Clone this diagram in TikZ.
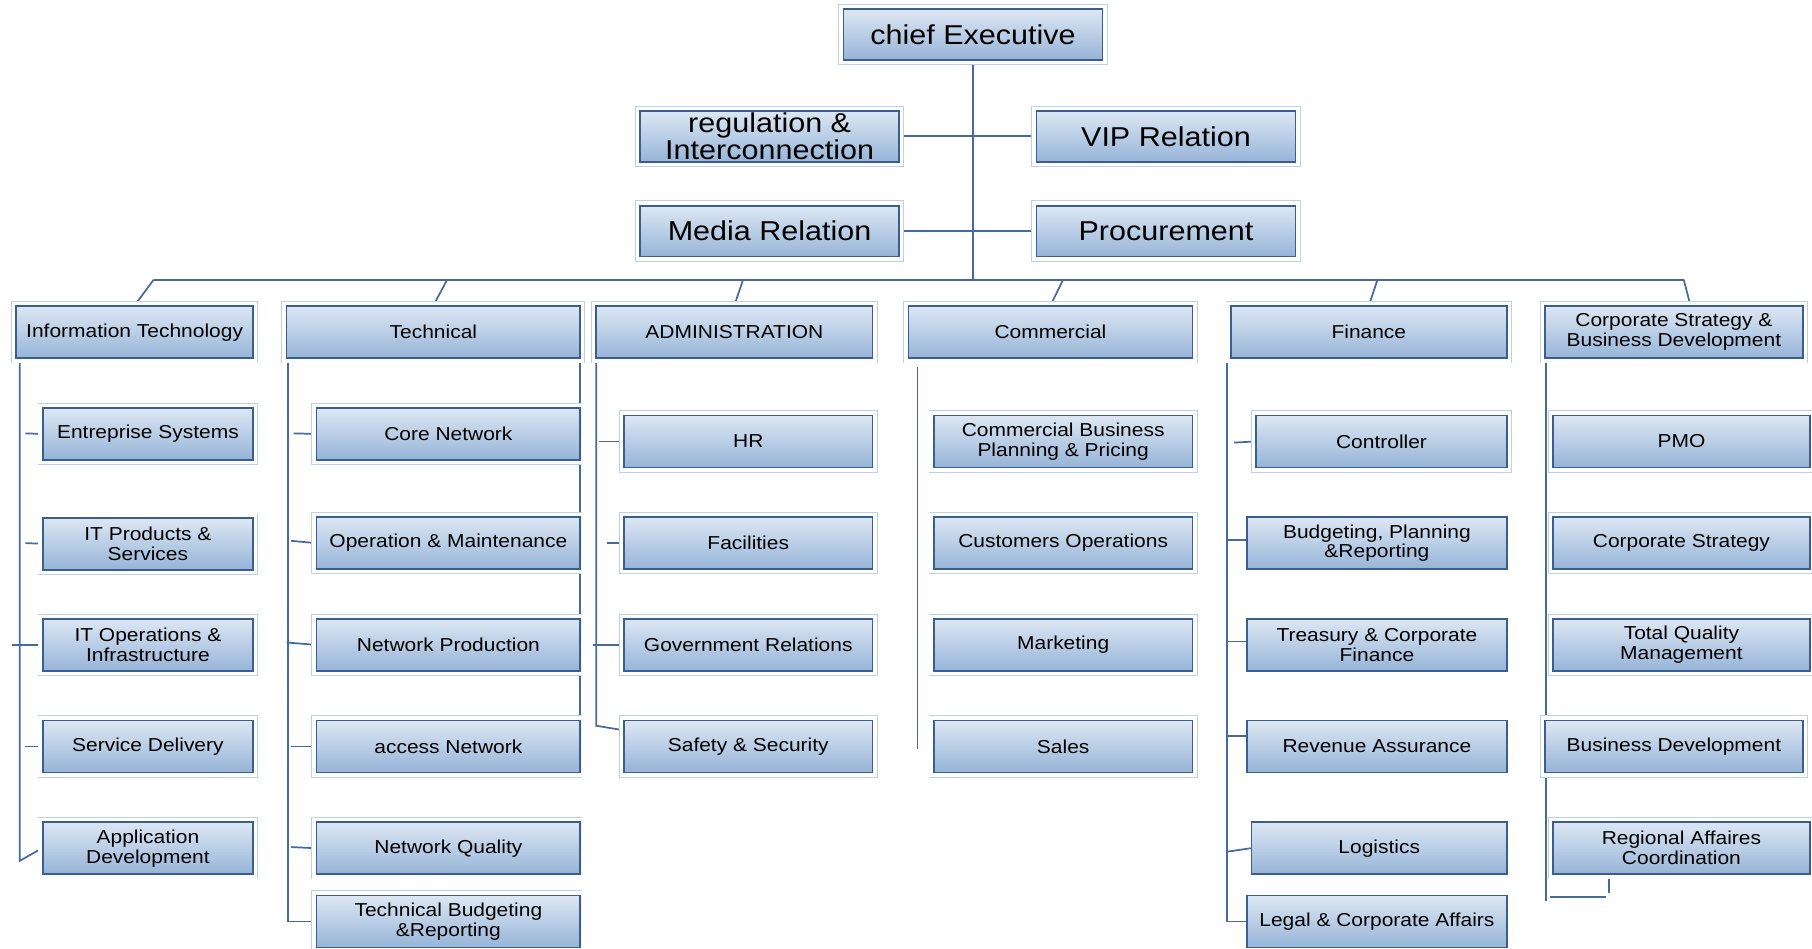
\documentclass[tikz,border=0pt]{standalone}
\usepackage{fontspec}
\setmainfont{Liberation Sans}[FakeStretch=1.12]
\usetikzlibrary{backgrounds}
\definecolor{boxtop}{RGB}{221,231,243}
\definecolor{boxbot}{RGB}{150,180,216}
\definecolor{boxedge}{RGB}{58,95,142}
\definecolor{frameblue}{RGB}{190,208,232}
\definecolor{wireblue}{RGB}{70,106,158}
\tikzset{
  unit/.style={draw=boxedge, line width=1.4pt, top color=boxtop, bottom color=boxbot,
    inner sep=0pt, align=center, text=black, minimum height=45pt,
    font=\fontsize{16.2}{17.2}\selectfont},
  framed/.style={preaction={draw=frameblue, line width=9pt},
    preaction={draw=white, line width=7.4pt}},
  big/.style={font=\fontsize{23.6}{24}\selectfont, minimum width=224pt, minimum height=44pt},
  wire/.style={color=wireblue, line width=1.5pt},
}
\begin{document}
\begin{tikzpicture}[x=1pt,y=-1pt]
\clip (0,0) rectangle (1568,821);

% executive level
\node[unit,framed,big] (ceo) at (842,30) {chief Executive};
\node[unit,framed,big] (reg) at (666,118) {regulation \&\\Interconnection};
\node[unit,framed,big] (vip) at (1009,118) {VIP Relation};
\node[unit,framed,big] (media) at (666,200) {Media Relation};
\node[unit,framed,big] (proc) at (1009,200) {Procurement};

% departments
\node[unit,framed,minimum width=205pt] (it) at (116.5,287.5) {Information Technology};
\node[unit,framed,minimum width=254pt] (tech) at (375,287.5) {Technical};
\node[unit,framed,minimum width=239pt] (adm) at (635.5,287.5) {ADMINISTRATION};
\node[unit,framed,minimum width=246pt] (com) at (909,287.5) {Commercial};
\node[unit,framed,minimum width=239pt] (fin) at (1184.5,287.5) {Finance};
\node[unit,framed,minimum width=223pt] (cs) at (1448.5,287.5) {Corporate Strategy \&\\Business Development};

% information technology units
\begin{scope}[every node/.style={unit,framed,minimum width=182pt}]
\node (es) at (128,375.5) {Entreprise Systems};
\node (itp) at (128,470.5) {IT Products \&\\Services};
\node (ito) at (128,558) {IT Operations \&\\Infrastructure};
\node (sd) at (128,646) {Service Delivery};
\node (ad) at (128,734) {Application\\Development};
\end{scope}

% technical units, cut flush at the right rail
\begin{scope}
\clip (0,0) rectangle (503.2,821);
\begin{scope}[every node/.style={unit,framed,minimum width=228pt}]
\node (cn) at (388,375.5) {Core Network};
\node (om) at (388,470) {Operation \& Maintenance};
\node (np) at (388,558) {Network Production};
\node (an) at (388,646) {access Network};
\node (nq) at (388,734) {Network Quality};
\node (tbr) at (388,797.5) {Technical Budgeting\\\&Reporting};
\end{scope}
\end{scope}

% administration units
\begin{scope}[every node/.style={unit,framed,minimum width=215pt}]
\node (hr) at (647.5,382) {HR};
\node (fac) at (647.5,470) {Facilities};
\node (gov) at (647.5,558) {Government Relations};
\node (saf) at (647.5,646) {Safety \& Security};
\end{scope}

% commercial units
\begin{scope}[every node/.style={unit,framed,minimum width=224pt}]
\node (cbp) at (920,382) {Commercial Business\\Planning \& Pricing};
\node (cop) at (920,470) {Customers Operations};
\node (mkt) at (920,558) {Marketing};
\node (sal) at (920,646) {Sales};
\end{scope}

% finance units
\node[unit,framed,minimum width=217pt] (ctrl) at (1195.5,382) {Controller};
\node[unit,minimum width=225pt] (bud) at (1191.5,470) {Budgeting, Planning\\\&Reporting};
\node[unit,minimum width=225pt] (tre) at (1191.5,558) {Treasury \& Corporate\\Finance};
\node[unit,minimum width=225pt] (rev) at (1191.5,646) {Revenue Assurance};
\node[unit,minimum width=221pt] (log) at (1193.5,734) {Logistics};
\node[unit,minimum width=225pt] (leg) at (1191.5,797.5) {Legal \& Corporate Affairs};

% corporate strategy units
\begin{scope}[every node/.style={unit,framed,minimum width=222pt}]
\node (pmo) at (1455,382) {PMO};
\node (cst) at (1455,470) {Corporate Strategy};
\node (tqm) at (1455,558) {Total Quality\\Management};
\node[minimum width=223pt] (bd) at (1448.5,646) {Business Development};
\node (rac) at (1455,734) {Regional Affaires\\Coordination};
\end{scope}

% rails and branch points
\coordinate (hub) at (842,242);
\coordinate (bl) at (133,242);
\coordinate (br) at (1457,242);
\coordinate (b2) at (387,242);
\coordinate (b3) at (643,242);
\coordinate (b4) at (920,242);
\coordinate (b5) at (1192,242);
\coordinate (csin) at (1463,265);

\coordinate (itT) at (17,310);   \coordinate (itB) at (17,745);
\coordinate (teT) at (249,310);  \coordinate (teB) at (249,797.5);
\coordinate (trT) at (502,310);  \coordinate (trB) at (502,668);
\coordinate (adT) at (516,310);  \coordinate (adB) at (516,628);
\coordinate (saIn) at (540,632);
\coordinate (coT) at (794,318);  \coordinate (coB) at (794,648);
\coordinate (fiT) at (1062,310); \coordinate (fiB) at (1062,797.5);
\coordinate (csT) at (1338,312); \coordinate (csB) at (1338,780);

\begin{scope}[on background layer]
\begin{scope}[wire]
% executive
\draw (ceo.south) -- (hub);
\draw (reg.east) -- (vip.west);
\draw (media.east) -- (proc.west);
\draw (bl) -- (br);
\draw (bl) -- (it.north);
\draw (b2) -- (tech.north);
\draw (b3) -- (adm.north);
\draw (b4) -- (com.north);
\draw (b5) -- (fin.north);
\draw (br) -- (csin);
% information technology
\draw (itT) -- (itB) -- (ad.west);
\draw (22,375) -- (es.west);
\draw (22,470) -- (itp.west);
\draw (10,558) -- (ito.west);
\draw (22,646) -- (sd.west);
% technical
\draw (teT) -- (teB) -- (tbr.west);
\draw (trT) -- (trB);
\draw (254,375) -- (cn.west);
\draw (252,468) -- (om.west);
\draw (248,556) -- (np.west);
\draw (252,646) -- (an.west);
\draw (252,733) -- (nq.west);
% administration
\draw (adT) -- (adB) -- (saIn);
\draw (518,382) -- (hr.west);
\draw (525,470) -- (fac.west);
\draw (513,558) -- (gov.west);
% commercial
\draw (coT) -- (coB);
% finance
\draw (fiT) -- (fiB) -- (leg.west);
\draw (1068,383) -- (ctrl.west);
\draw (1062,467) -- (1082,467);
\draw (1062,555) -- (1082,555);
\draw (1062,637) -- (1082,637);
\draw (1062,737) -- (log.west);
% corporate strategy
\draw (csT) -- (csB);
\draw (1341,776) -- (1390,776);
\draw (1392.5,761) -- (1392.5,773);
\end{scope}
\end{scope}
\end{tikzpicture}
\end{document}
